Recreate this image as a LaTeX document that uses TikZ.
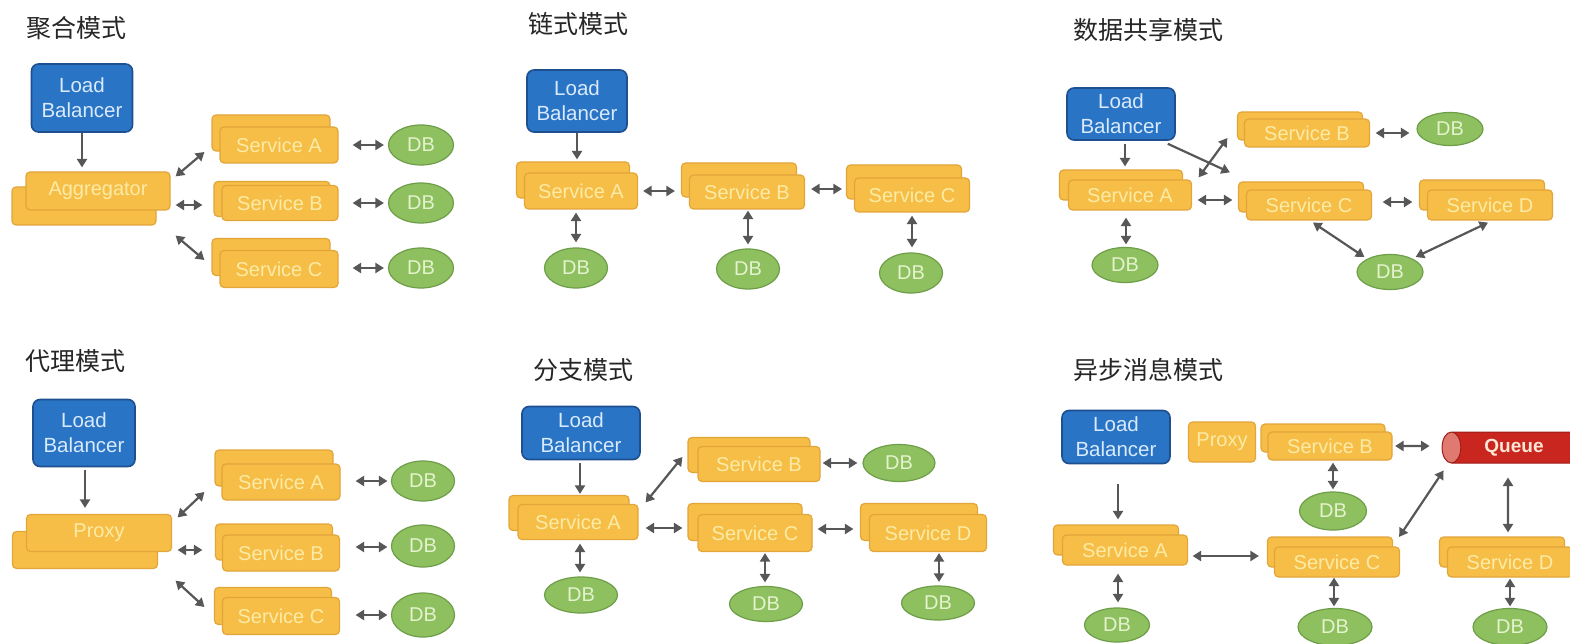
\documentclass[tikz,border=0pt]{standalone}
\usepackage{fontspec}
\setmainfont{Liberation Sans}
\newfontfamily\cjk{Noto Sans CJK SC}
\usetikzlibrary{arrows.meta,shapes.geometric,calc}
\definecolor{svcfill}{HTML}{F6BE46}
\definecolor{svcdraw}{HTML}{E2A53A}
\definecolor{svctext}{HTML}{FCEBA6}
\definecolor{lbfill}{HTML}{2A74C6}
\definecolor{lbdraw}{HTML}{1E4F8E}
\definecolor{lbtext}{HTML}{D8EAFB}
\definecolor{dbfill}{HTML}{8EC060}
\definecolor{dbdraw}{HTML}{6E9E48}
\definecolor{dbtext}{HTML}{E4F2CE}
\definecolor{qfill}{HTML}{C8261E}
\definecolor{qcap}{HTML}{E07A70}
\definecolor{qtext}{HTML}{FCE6D6}
\definecolor{arrgray}{HTML}{575757}
\definecolor{titlecol}{HTML}{262626}
\tikzset{
  x=1pt, y=-1pt,
  titletext/.style={font=\cjk\fontsize{25}{28}\selectfont, text=titlecol, inner sep=0pt},
  lbbox/.style={rectangle, rounded corners=7pt, fill=lbfill, draw=lbdraw, line width=1.6pt,
    text=lbtext, align=center, font=\fontsize{20.5}{25}\selectfont, inner sep=0pt},
  svcbox/.style={rectangle, rounded corners=4pt, fill=svcfill, draw=svcdraw, line width=1.2pt,
    text=svctext, font=\fontsize{20}{22}\selectfont, inner sep=0pt},
  dbnode/.style={ellipse, fill=dbfill, draw=dbdraw, line width=1.2pt, text=dbtext,
    font=\fontsize{20}{22}\selectfont, inner sep=0pt},
  oneway/.style={draw=arrgray, line width=2.2pt, -{Triangle[length=8.5pt,width=10pt]}},
  twoway/.style={draw=arrgray, line width=2.2pt, {Triangle[length=8.5pt,width=10pt]}-{Triangle[length=8.5pt,width=10pt]}},
}
% #1 name, #2 front centre, #3 back centre, #4 width, #5 height, #6 text
\newcommand\svcpair[6]{%
  \node[svcbox, minimum width=#4, minimum height=#5] (#1b) at #3 {};
  \node[svcbox, minimum width=#4, minimum height=#5] (#1) at #2 {#6};
}
\begin{document}
\begin{tikzpicture}
\useasboundingbox (0,0) rectangle (1570,644);
\clip (0,0) rectangle (1570,644);
\fill[white] (0,0) rectangle (1570,644);

% ================= Panel 1: aggregation =================
\node[titletext] (t1) at (76,28) {聚合模式};
\node[lbbox, minimum width=101, minimum height=68] (lb1) at (82,98) {Load\\Balancer};
\svcpair{agg1}{(98,191)}{(84,206)}{144}{38}{Aggregator}
\svcpair{sA1}{(279,145)}{(271,133)}{118}{36}{Service A}
\svcpair{sB1}{(280,203)}{(272,199)}{116}{35}{Service B}
\svcpair{sC1}{(279,269)}{(271,257)}{118}{37}{Service C}
\node[dbnode, minimum width=65, minimum height=40] (db1a) at (421,145) {DB};
\node[dbnode, minimum width=65, minimum height=40] (db1b) at (421,203) {DB};
\node[dbnode, minimum width=65, minimum height=40] (db1c) at (421,268) {DB};
\draw[oneway] (lb1.south) -- ([shift={(0,-4)}]lb1.south |- agg1.north);
\draw[twoway] ([shift={(5,5)}]agg1.north east) -- ([shift={(-15,7)}]sA1.west);
\draw[twoway] ([shift={(5,14)}]agg1.east) -- ([shift={(-19,2)}]sB1.west);
\draw[twoway] ([shift={(5,25)}]agg1.south east) -- ([shift={(-15,-9)}]sC1.west);
\draw[twoway] ([shift={(14,0)}]sA1.east) -- ([shift={(-4,0)}]db1a.west);
\draw[twoway] ([shift={(14,0)}]sB1.east) -- ([shift={(-4,0)}]db1b.west);
\draw[twoway] ([shift={(14,-1)}]sC1.east) -- ([shift={(-4,0)}]db1c.west);

% ================= Panel 2: chain =================
\node[titletext] (t2) at (578,24) {链式模式};
\node[lbbox, minimum width=100, minimum height=62] (lb2) at (577,101) {Load\\Balancer};
\svcpair{sA2}{(581,191)}{(573,180)}{113}{36}{Service A}
\svcpair{sB2}{(747,192)}{(739,180)}{115}{34}{Service B}
\svcpair{sC2}{(912,195)}{(904,182)}{115}{34}{Service C}
\node[dbnode, minimum width=63, minimum height=40] (db2a) at (576,268) {DB};
\node[dbnode, minimum width=63, minimum height=40] (db2b) at (748,269) {DB};
\node[dbnode, minimum width=63, minimum height=40] (db2c) at (911,273) {DB};
\draw[oneway] (lb2.south) -- ([shift={(0,-2)}]lb2.south |- sA2b.north);
\draw[twoway] ([shift={(5,0)}]sA2.east) -- ([shift={(-14,-1)}]sB2.west);
\draw[twoway] ([shift={(6,-3)}]sB2.east) -- ([shift={(-12,-6)}]sC2.west);
\draw[twoway] ([shift={(-5,3)}]sA2.south) -- ([shift={(0,-5)}]db2a.north);
\draw[twoway] ([shift={(1,1)}]sB2.south) -- ([shift={(0,-4)}]db2b.north);
\draw[twoway] ([shift={(0,3)}]sC2.south) -- ([shift={(1,-5)}]db2c.north);

% ================= Panel 3: shared data =================
\node[titletext] (t3) at (1148,30) {数据共享模式};
\node[lbbox, minimum width=108, minimum height=52] (lb3) at (1121,114) {Load\\Balancer};
\svcpair{sA3}{(1130,195)}{(1121,185)}{123}{30}{Service A}
\svcpair{sB3}{(1307,133)}{(1300,126)}{125}{28}{Service B}
\svcpair{sC3}{(1309,205)}{(1301,197)}{125}{30}{Service C}
\svcpair{sD3}{(1490,205)}{(1482,195)}{125}{30}{Service D}
\node[dbnode, minimum width=66, minimum height=33] (db3b) at (1450,129) {DB};
\node[dbnode, minimum width=66, minimum height=35] (db3a) at (1125,265) {DB};
\node[dbnode, minimum width=66, minimum height=35] (db3s) at (1390,272) {DB};
\draw[oneway] ([shift={(4,3)}]lb3.south) -- ([shift={(4,-3)}]sA3b.north);
\draw[oneway] ([shift={(-8,3)}]lb3.south east) -- ([shift={(-8,-9)}]sC3b.north west);
\draw[twoway] ([shift={(6.5,-2)}]sA3.north east) -- ([shift={(-9.5,12)}]sB3b.west);
\draw[twoway] ([shift={(5.5,5)}]sA3.east) -- ([shift={(-5.5,3)}]sC3b.west);
\draw[twoway] ([shift={(10.5,-3)}]sC3.east) -- ([shift={(-6.5,7)}]sD3b.west);
\draw[twoway] ([shift={(-4,7)}]sA3.south) -- ([shift={(1,-2.5)}]db3a.north);
\draw[twoway] ([shift={(5.5,0)}]sB3.east) -- ([shift={(-7,4)}]db3b.west);
\draw[twoway] ([shift={(4,2)}]sC3.south) -- ([shift={(8,-15)}]db3s.west);
\draw[twoway] ([shift={(-2,2)}]sD3.south) -- ([shift={(-8,-15)}]db3s.east);

% ================= Panel 4: proxy =================
\node[titletext] (t4) at (75,361) {代理模式};
\node[lbbox, minimum width=102, minimum height=67] (lb4) at (84,433) {Load\\Balancer};
\svcpair{px4}{(99,533)}{(85,550)}{145}{37}{Proxy}
\svcpair{sA4}{(281,482)}{(274,468)}{118}{36}{Service A}
\svcpair{sB4}{(281,553)}{(274,542)}{117}{36}{Service B}
\svcpair{sC4}{(281,616)}{(273,606)}{117}{37}{Service C}
\node[dbnode, minimum width=63, minimum height=40] (db4a) at (423,481) {DB};
\node[dbnode, minimum width=63, minimum height=42] (db4b) at (423,546) {DB};
\node[dbnode, minimum width=63, minimum height=44] (db4c) at (423,615) {DB};
\draw[oneway] ([shift={(1,3)}]lb4.south) -- ([shift={(-14,-6)}]px4.north);
\draw[twoway] ([shift={(5.5,3.5)}]px4.north east) -- ([shift={(-17,10)}]sA4.west);
\draw[twoway] ([shift={(5.5,17)}]px4.east) -- ([shift={(-19.5,-3)}]sB4.west);
\draw[twoway] ([shift={(3.5,28.5)}]px4.south east) -- ([shift={(-17.5,-9)}]sC4.west);
\draw[twoway] ([shift={(15,-1)}]sA4.east) -- ([shift={(-3.5,0)}]db4a.west);
\draw[twoway] ([shift={(15.5,-6)}]sB4.east) -- ([shift={(-3.5,1)}]db4b.west);
\draw[twoway] ([shift={(15.5,-1)}]sC4.east) -- ([shift={(-3.5,0)}]db4c.west);

% ================= Panel 5: branch =================
\node[titletext] (t5) at (583,370) {分支模式};
\node[lbbox, minimum width=118, minimum height=53] (lb5) at (581,433) {Load\\Balancer};
\svcpair{sA5}{(578,522)}{(569,513)}{120}{35}{Service A}
\svcpair{sB5}{(759,464)}{(749,455)}{122}{35}{Service B}
\svcpair{sC5}{(755,533)}{(745,522)}{114}{37}{Service C}
\svcpair{sD5}{(928,533)}{(919,522)}{117}{37}{Service D}
\node[dbnode, minimum width=72, minimum height=37] (db5b) at (899,463) {DB};
\node[dbnode, minimum width=73, minimum height=36] (db5a) at (581,595) {DB};
\node[dbnode, minimum width=73, minimum height=35] (db5c) at (766,604) {DB};
\node[dbnode, minimum width=73, minimum height=34] (db5d) at (938,603) {DB};
\draw[oneway] ([shift={(-1,2.5)}]lb5.south) -- ([shift={(11,-1)}]sA5b.north);
\draw[twoway] ([shift={(7,-1.5)}]sA5.north east) -- ([shift={(-5,2)}]sB5b.west);
\draw[twoway] ([shift={(7,6)}]sA5.east) -- ([shift={(-5,6)}]sC5b.west);
\draw[twoway] ([shift={(2,-1)}]sB5.east) -- ([shift={(-5,0)}]db5b.west);
\draw[twoway] ([shift={(5,-4)}]sC5.east) -- ([shift={(-6.5,7)}]sD5b.west);
\draw[twoway] ([shift={(2,3.5)}]sA5.south) -- ([shift={(-1,-4)}]db5a.north);
\draw[twoway] ([shift={(10,1)}]sC5.south) -- ([shift={(-1,-3.5)}]db5c.north);
\draw[twoway] ([shift={(11,1)}]sD5.south) -- ([shift={(1,-3.5)}]db5d.north);

% ================= Panel 6: async messaging =================
\node[titletext] (t6) at (1148,370) {异步消息模式};
\node[lbbox, minimum width=108, minimum height=53] (lb6) at (1116,437) {Load\\Balancer};
\node[svcbox, minimum width=67, minimum height=40] (px6) at (1222,442) {Proxy};
\svcpair{sB6}{(1330,446)}{(1323,438)}{124}{28}{Service B}
\node[cylinder, shape border rotate=180, aspect=1.1, minimum width=31, minimum height=160,
  cylinder uses custom fill, cylinder body fill=qfill, cylinder end fill=qcap,
  draw=qfill!80!black, line width=1pt, text=qtext, font=\bfseries\fontsize{19}{21}\selectfont,
  inner sep=0pt] (queue) at (1527,447.5) {\hspace*{-26pt}Queue};
\svcpair{sA6}{(1125,550)}{(1116,540)}{125}{30}{Service A}
\svcpair{sC6}{(1337,562)}{(1330,552)}{125}{30}{Service C}
\svcpair{sD6}{(1510,562)}{(1502,552)}{125}{30}{Service D}
\node[dbnode, minimum width=67, minimum height=38] (db6b) at (1333,511) {DB};
\node[dbnode, minimum width=65, minimum height=34] (db6a) at (1117,625) {DB};
\node[dbnode, minimum width=74, minimum height=37] (db6c) at (1335,627) {DB};
\node[dbnode, minimum width=74, minimum height=37] (db6d) at (1510,627) {DB};
\draw[oneway] ([shift={(2,19.5)}]lb6.south) -- ([shift={(2,-5)}]sA6b.north);
\draw[twoway] ([shift={(4.5,6)}]sA6.east) -- ([shift={(-8,4)}]sC6b.west);
\draw[twoway] ([shift={(2.5,0)}]sB6.east) -- ([shift={(-12,-1.5)}]queue.west);
\draw[twoway] ([shift={(3,2)}]sB6.south) -- ([shift={(0,-2)}]db6b.north);
\draw[twoway] ([shift={(2,7)}]queue.west |- queue.south) -- ([shift={(6,0.5)}]sC6b.north east);
\draw[twoway] ([shift={(-19,14)}]queue.south) -- ([shift={(6,-4)}]sD6b.north);
\draw[twoway] ([shift={(-3,0)}]sC6.south) -- ([shift={(-1,-1.5)}]db6c.north);
\draw[twoway] ([shift={(0,1)}]sD6.south) -- ([shift={(0,-1.5)}]db6d.north);
\draw[twoway] ([shift={(-7,8)}]sA6.south) -- ([shift={(1,-5)}]db6a.north);
\end{tikzpicture}
\end{document}
